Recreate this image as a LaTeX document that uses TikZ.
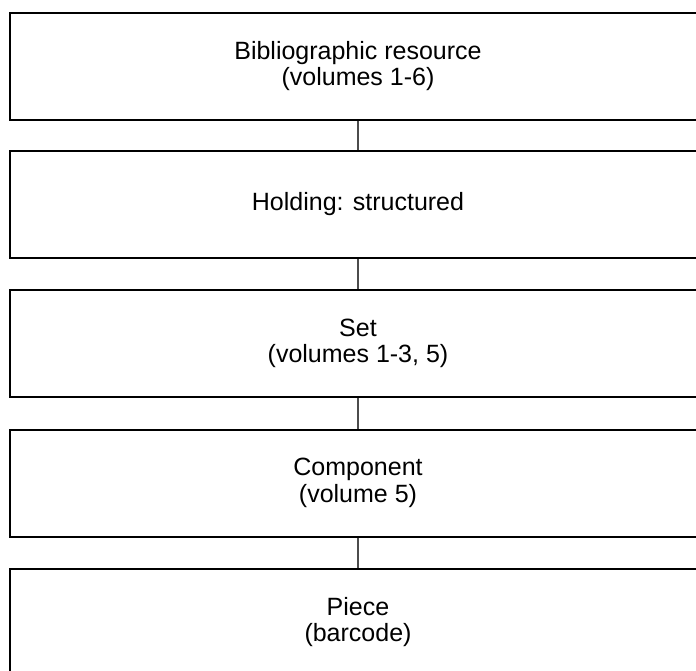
\documentclass[tikz,border=0pt]{standalone}
\usepackage{fontspec}
\setmainfont{Liberation Sans}
\begin{document}
\begin{tikzpicture}[x=1pt,y=-1pt,
  box/.style={draw=black, line width=2pt, minimum width=696pt, minimum height=107pt,
    inner sep=0pt, align=center, font=\fontsize{25}{26.5}\selectfont},
  link/.style={draw=black!70, line width=1.3pt}]
\useasboundingbox (0,0) rectangle (696,670);
\clip (0,0) rectangle (696,670);
\fill[white] (0,0) rectangle (696,670);
\node[box] (b1) at (358,66) {Bibliographic resource\\(volumes 1-6)};
\node[box] (b2) at (358,204.5) {Holding: structured};
\node[box] (b3) at (358,343.5) {Set\\(volumes 1-3, 5)};
\node[box] (b4) at (358,483) {Component\\(volume 5)};
\node[box] (b5) at (358,622) {Piece\\(barcode)};
\draw[link] (b1) -- (b2);
\draw[link] (b2) -- (b3);
\draw[link] (b3) -- (b4);
\draw[link] (b4) -- (b5);
\end{tikzpicture}
\end{document}
